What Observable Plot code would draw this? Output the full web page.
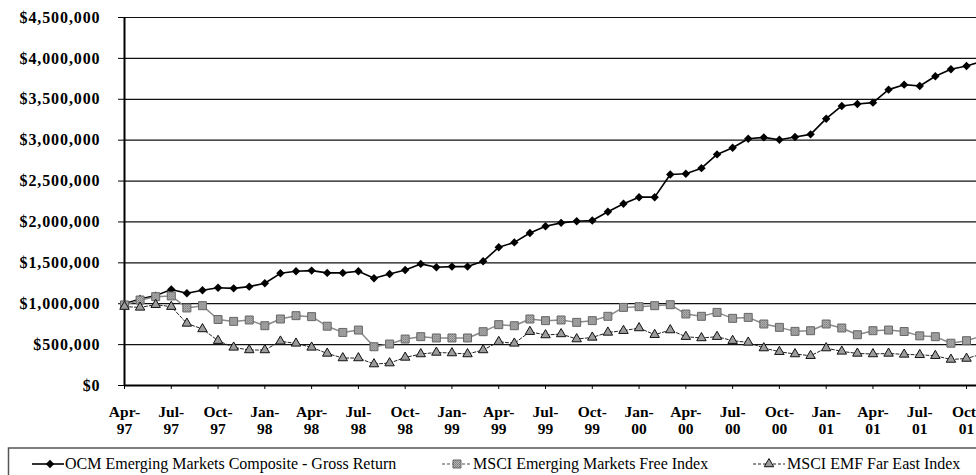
<!DOCTYPE html>
<html>
<head>
<meta charset="utf-8">
<script src="https://cdn.jsdelivr.net/npm/d3@7"></script>
<script src="https://cdn.jsdelivr.net/npm/@observablehq/plot@0.6"></script>
<style>
  html, body { margin: 0; padding: 0; background: #fff; }
  body { width: 976px; height: 475px; overflow: hidden; font-family: "Liberation Serif", "Times New Roman", serif; }
  svg { display: block; }
</style>
</head>
<body>
<script>
// Monthly categories, April 1997 through November 2001
const months = [
  "Apr-97","May-97","Jun-97","Jul-97","Aug-97","Sep-97","Oct-97","Nov-97","Dec-97",
  "Jan-98","Feb-98","Mar-98","Apr-98","May-98","Jun-98","Jul-98","Aug-98","Sep-98","Oct-98","Nov-98","Dec-98",
  "Jan-99","Feb-99","Mar-99","Apr-99","May-99","Jun-99","Jul-99","Aug-99","Sep-99","Oct-99","Nov-99","Dec-99",
  "Jan-00","Feb-00","Mar-00","Apr-00","May-00","Jun-00","Jul-00","Aug-00","Sep-00","Oct-00","Nov-00","Dec-00",
  "Jan-01","Feb-01","Mar-01","Apr-01","May-01","Jun-01","Jul-01","Aug-01","Sep-01","Oct-01","Nov-01"
];

// Growth of $1,000,000 — OCM Emerging Markets Composite (gross)
const ocm = [
  1000000, 1058000, 1099000, 1175000, 1127000, 1165000, 1195000, 1188000, 1209000,
  1250000, 1372000, 1397000, 1405000, 1377000, 1377000, 1397000, 1311000, 1364000, 1413000, 1487000, 1446000,
  1454000, 1454000, 1519000, 1690000, 1750000, 1865000, 1948000, 1989000, 2009000, 2017000, 2124000, 2222000,
  2303000, 2303000, 2581000, 2589000, 2658000, 2826000, 2908000, 3018000, 3034000, 3006000, 3038000, 3071000,
  3263000, 3418000, 3442000, 3459000, 3618000, 3679000, 3662000, 3781000, 3867000, 3907000, 3966000
];

// MSCI Emerging Markets Free Index
const emFree = [
  985000, 1045000, 1086000, 1095000, 948000, 976000, 807000, 784000, 801000,
  731000, 813000, 854000, 842000, 725000, 649000, 678000, 474000, 507000, 568000, 597000, 581000,
  581000, 581000, 658000, 744000, 731000, 813000, 793000, 801000, 772000, 793000, 846000, 955000,
  964000, 976000, 988000, 874000, 846000, 894000, 821000, 833000, 752000, 711000, 662000, 670000,
  752000, 703000, 621000, 670000, 678000, 660000, 607000, 597000, 517000, 548000, 607000
];

// MSCI EMF Far East Index
const farEast = [
  965000, 955000, 988000, 964000, 759000, 691000, 548000, 466000, 434000,
  434000, 540000, 515000, 466000, 392000, 336000, 336000, 262000, 274000, 343000, 385000, 404000,
  397000, 385000, 434000, 535000, 515000, 658000, 617000, 630000, 568000, 588000, 649000, 670000,
  703000, 621000, 678000, 597000, 581000, 597000, 548000, 527000, 458000, 413000, 385000, 364000,
  458000, 417000, 392000, 385000, 392000, 380000, 375000, 364000, 318000, 330000, 386000
];

// Quarterly tick labels on the category axis
const tickLabels = [
  "Apr-97","Jul-97","Oct-97","Jan-98","Apr-98","Jul-98","Oct-98","Jan-99","Apr-99","Jul-99",
  "Oct-99","Jan-00","Apr-00","Jul-00","Oct-00","Jan-01","Apr-01","Jul-01","Oct-01"
];

// Dollar ticks on the value axis
const yTicks = [0, 500000, 1000000, 1500000, 2000000, 2500000, 3000000, 3500000, 4000000, 4500000];

const seriesNames = [
  "OCM Emerging Markets Composite - Gross Return",
  "MSCI Emerging Markets Free Index",
  "MSCI EMF Far East Index"
];

const rows = months.map((m, i) => ({i, m, ocm: ocm[i], emFree: emFree[i], farEast: farEast[i]}));
const tickIdx = tickLabels.map(t => months.indexOf(t));

const serif = '"Liberation Serif", "Times New Roman", serif';

const chart = Plot.plot({
  width: 976,
  height: 445,
  marginLeft: 124,
  marginRight: 0,
  marginTop: 17,
  marginBottom: 60,
  style: {fontFamily: serif, fontSize: "16px", fontWeight: "bold", color: "#000", background: "#fff", overflow: "hidden"},
  x: {type: "linear", domain: [0, 54.64]},
  y: {domain: [0, 4500000]},
  marks: [
    Plot.ruleY(yTicks, {stroke: "#111", strokeWidth: 1.2}),
    Plot.axisY({ticks: yTicks, tickFormat: d3.format("$,"), tickSize: 6, tickPadding: 18, label: null, stroke: "#000", fontSize: 16}),
    Plot.axisX({ticks: tickIdx, tickFormat: i => months[i].replace("-", "-\n"), tickSize: 4, tickPadding: 16, label: null, stroke: "#000", fontSize: 15.5, lineHeight: 1.08}),
    Plot.ruleX([0], {stroke: "#000", strokeWidth: 2}),
    Plot.ruleY([0], {stroke: "#000", strokeWidth: 2}),
    Plot.line(rows, {x: "i", y: "ocm", stroke: "#000", strokeWidth: 1.6}),
    Plot.dot(rows, {x: "i", y: "ocm", symbol: "diamond2", r: 3.8, fill: "#000", stroke: "none"}),
    Plot.line(rows, {x: "i", y: "emFree", stroke: "#8a8a8a", strokeWidth: 1.5}),
    Plot.dot(rows, {x: "i", y: "emFree", symbol: "square", r: 4.5, fill: "url(#stipple)", stroke: "#666", strokeWidth: 1}),
    Plot.line(rows, {x: "i", y: "farEast", stroke: "#222", strokeWidth: 1, strokeDasharray: "3,2"}),
    Plot.dot(rows, {x: "i", y: "farEast", symbol: "triangle", r: 3.5, fill: "#9c9c9c", stroke: "#111", strokeWidth: 1})
  ]
});

// Stippled gray fill for the square markers
function addStipple(svg) {
  const defs = d3.select(svg).insert("defs", ":first-child");
  const p = defs.append("pattern").attr("id", "stipple")
    .attr("patternUnits", "userSpaceOnUse").attr("width", 2).attr("height", 2);
  p.append("rect").attr("width", 2).attr("height", 2).attr("fill", "#b4b4b4");
  p.append("rect").attr("width", 1).attr("height", 1).attr("fill", "#7a7a7a");
  p.append("rect").attr("x", 1).attr("y", 1).attr("width", 1).attr("height", 1).attr("fill", "#8e8e8e");
}
addStipple(chart);

// Slightly wider spacing for the dollar labels
d3.select(chart).selectAll('g[aria-label="y-axis tick label"] text').style("letter-spacing", "0.9px");

document.body.appendChild(chart);

// Legend strip below the chart
const legend = d3.select("body").append("svg")
  .attr("width", 976).attr("height", 30)
  .style("font-family", serif).style("font-size", "16px");
legend.append("rect")
  .attr("x", 8.5).attr("y", 3).attr("width", 1000).attr("height", 60)
  .attr("fill", "none").attr("stroke", "#555").attr("stroke-width", 1.5);

const sym = (type, r) => d3.symbol(type, Math.PI * r * r)();
const items = [
  {name: seriesNames[0], x0: 32, x1: 64, cx: 50, tx: 65, line: {stroke: "#000", w: 1.6, dash: null},
   mark: {d: sym(d3.symbolDiamond2, 3.8), fill: "#000", stroke: "none"}},
  {name: seriesNames[1], x0: 442, x1: 472, cx: 457, tx: 473, line: {stroke: "#8a8a8a", w: 1.5, dash: "3,2"},
   mark: {d: sym(d3.symbolSquare, 4.5), fill: "url(#stipple)", stroke: "#666"}},
  {name: seriesNames[2], x0: 753, x1: 785, cx: 769, tx: 787, line: {stroke: "#222", w: 1, dash: "3,2"},
   mark: {d: sym(d3.symbolTriangle, 3.5), fill: "#9c9c9c", stroke: "#111"}}
];
for (const it of items) {
  const g = legend.append("g");
  g.append("line").attr("x1", it.x0).attr("x2", it.x1).attr("y1", 19).attr("y2", 19)
    .attr("stroke", it.line.stroke).attr("stroke-width", it.line.w).attr("stroke-dasharray", it.line.dash);
  g.append("path").attr("d", it.mark.d).attr("transform", `translate(${it.cx},19)`)
    .attr("fill", it.mark.fill).attr("stroke", it.mark.stroke);
  g.append("text").attr("x", it.tx).attr("y", 24).text(it.name);
}
</script>
</body>
</html>
